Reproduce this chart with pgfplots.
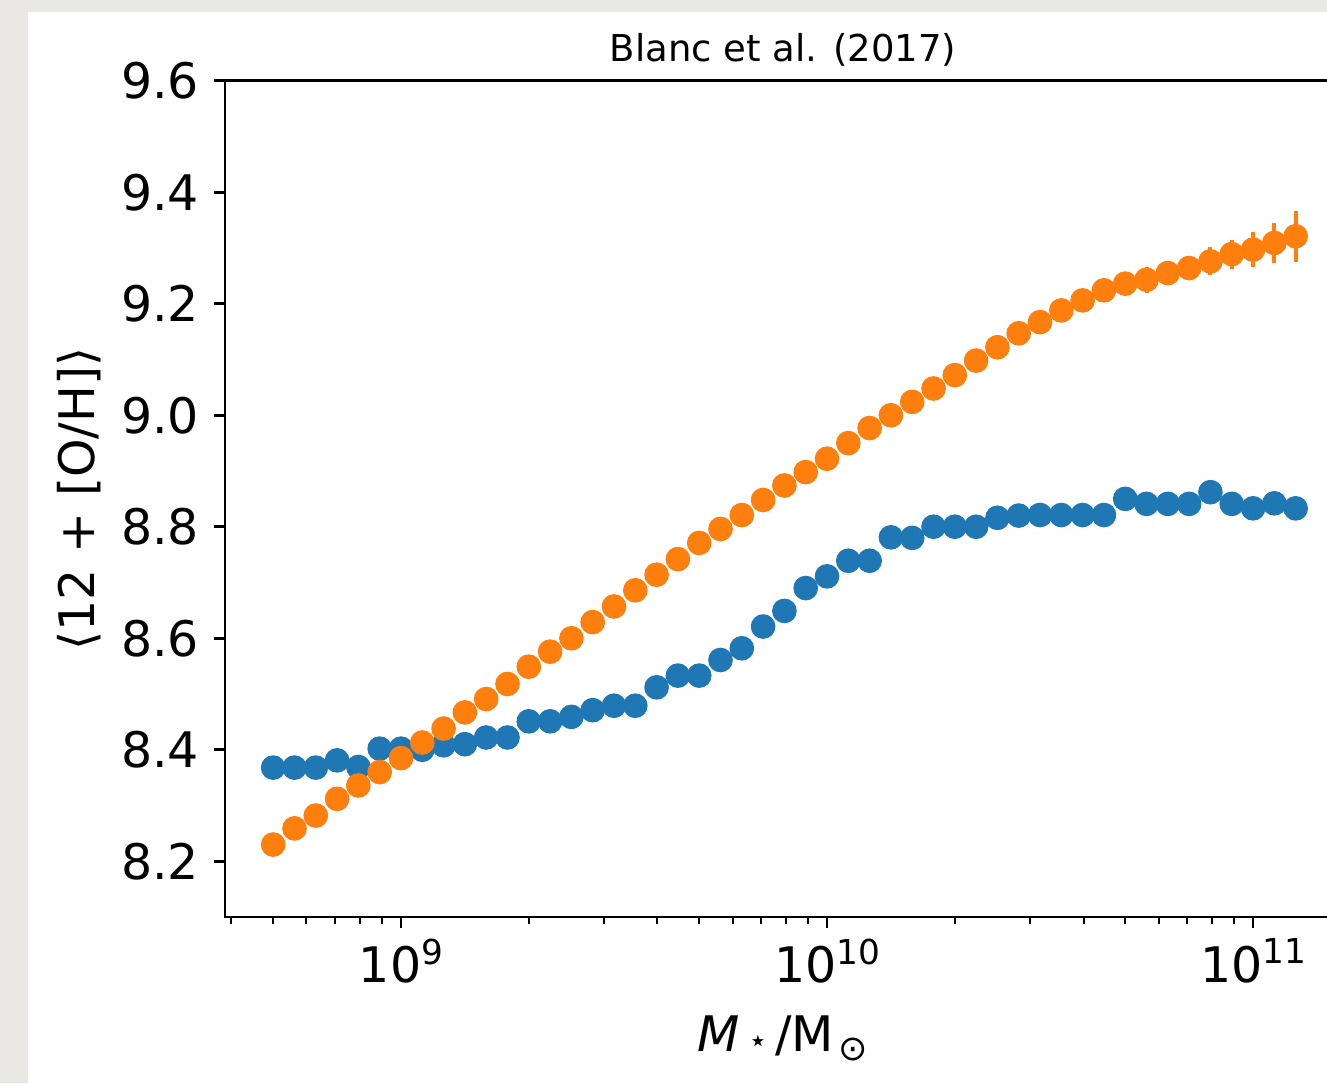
\documentclass[border=0pt]{standalone}
\usepackage{pgfplots}
\pgfplotsset{compat=1.18}
\usepackage{pgfplotstable}
\usepackage{fontspec}
\setmainfont{DejaVu Sans}

\definecolor{mplblue}{HTML}{1F77B4}
\definecolor{mplorange}{HTML}{FF7F0E}
\definecolor{paper}{RGB}{234,232,229}

\newcommand{\tickfont}{\fontsize{14.7}{17}\selectfont}
\newcommand{\supnum}[1]{\raisebox{5.6pt}{\fontsize{10.3}{12}\selectfont #1}}

% mean metallicity per stellar-mass bin (0.05 dex bins)
\pgfplotstableread{
mass      blue   orange oerr
5.0119e8  8.368  8.230  0.012
5.6234e8  8.368  8.259  0.012
6.3096e8  8.368  8.282  0.012
7.0795e8  8.381  8.312  0.012
7.9433e8  8.369  8.336  0.012
8.9125e8  8.402  8.360  0.012
1.0000e9  8.402  8.385  0.012
1.1220e9  8.400  8.413  0.012
1.2589e9  8.408  8.438  0.012
1.4125e9  8.410  8.467  0.012
1.5849e9  8.422  8.491  0.012
1.7783e9  8.422  8.518  0.012
1.9953e9  8.451  8.549  0.012
2.2387e9  8.451  8.576  0.012
2.5119e9  8.459  8.600  0.012
2.8184e9  8.471  8.629  0.012
3.1623e9  8.479  8.657  0.012
3.5481e9  8.479  8.686  0.012
3.9811e9  8.512  8.714  0.012
4.4668e9  8.533  8.742  0.012
5.0119e9  8.533  8.771  0.012
5.6234e9  8.561  8.796  0.012
6.3096e9  8.582  8.821  0.012
7.0795e9  8.621  8.848  0.012
7.9433e9  8.649  8.874  0.012
8.9125e9  8.690  8.898  0.012
1.0000e10 8.711  8.922  0.012
1.1220e10 8.739  8.950  0.012
1.2589e10 8.739  8.977  0.012
1.4125e10 8.781  9.000  0.012
1.5849e10 8.780  9.024  0.012
1.7783e10 8.800  9.048  0.012
1.9953e10 8.800  9.072  0.012
2.2387e10 8.800  9.098  0.020
2.5119e10 8.816  9.122  0.020
2.8184e10 8.820  9.147  0.020
3.1623e10 8.821  9.167  0.020
3.5481e10 8.821  9.188  0.020
3.9811e10 8.821  9.206  0.020
4.4668e10 8.821  9.224  0.020
5.0119e10 8.850  9.236  0.020
5.6234e10 8.841  9.243  0.023
6.3096e10 8.841  9.255  0.020
7.0795e10 8.841  9.264  0.022
7.9433e10 8.862  9.276  0.025
8.9125e10 8.841  9.289  0.026
1.0000e11 8.833  9.297  0.032
1.1220e11 8.842  9.309  0.036
1.2589e11 8.833  9.321  0.046
}\metallicity

\begin{document}
\begin{tikzpicture}
% page background and white canvas
\fill[paper] (0,0) rectangle (398.1pt,-324.9pt);
\fill[white] (8.4pt,-3.6pt) rectangle (398.1pt,-324.9pt);

\begin{axis}[
    at={(67.5pt,-275.1pt)}, anchor=south west,
    scale only axis,
    width=334.8pt, height=250.9pt,
    xmode=log,
    xmin=3.864e8, xmax=1.609e11,
    ymin=8.1, ymax=9.6,
    xtick={1e9,1e10,1e11},
    xticklabels={10\supnum{9},10\supnum{10},10\supnum{11}},
    minor xtick={4e8,5e8,6e8,7e8,8e8,9e8,2e9,3e9,4e9,5e9,6e9,7e9,8e9,9e9,2e10,3e10,4e10,5e10,6e10,7e10,8e10,9e10},
    ytick={8.2,8.4,8.6,8.8,9.0,9.2,9.4,9.6},
    yticklabel style={/pgf/number format/fixed, /pgf/number format/fixed zerofill, /pgf/number format/precision=1},
    /pgf/number format/assume math mode=true,
    tick label style={font=\tickfont},
    xticklabel style={anchor=north, inner sep=0pt, yshift=-3.0pt},
    yticklabel style={anchor=east, inner sep=0pt, xshift=-4.3pt},
    tick align=outside, tick pos=left,
    major tick length=3.3pt, minor tick length=2pt,
    major tick style={line width=0.8pt, black},
    minor tick style={line width=0.6pt, black},
    axis line style={line width=0.8pt},
    title={Blanc et al. (2017)},
    every axis title/.style={at={(axis description cs:0.5,1.0167)}, anchor=south, inner sep=0pt, font=\fontsize{11.1}{13}\selectfont},
    xlabel={\textit{M}\kern2.5pt\raisebox{0pt}{\fontsize{9.5}{10}\selectfont ⋆}\kern2pt/M\kern1.5pt\raisebox{-2.8pt}{\fontsize{10.5}{12}\selectfont ⊙}},
    ylabel={⟨12 + [O/H]⟩},
    every axis x label/.style={at={(axis description cs:0.5,-0.1172)}, anchor=north, inner sep=0pt, font=\tickfont},
    every axis y label/.style={at={(axis description cs:-0.1102,0.5)}, rotate=90, anchor=south, inner sep=0pt, font=\tickfont},
]
\addplot[only marks, mark=*, mark size=3.5pt, color=mplblue,
    mark options={draw=none, fill=mplblue}]
    table[x=mass, y=blue]{\metallicity};
\addplot[only marks, mark=*, mark size=3.5pt, color=mplorange,
    mark options={draw=none, fill=mplorange},
    error bars/.cd, y dir=both, y explicit,
    error mark=none, error bar style={line width=1.2pt, mplorange}]
    table[x=mass, y=orange, y error=oerr]{\metallicity};
\end{axis}

\pgfresetboundingbox
\useasboundingbox (0,0) rectangle (398.1pt,-324.9pt);
\end{tikzpicture}
\end{document}
